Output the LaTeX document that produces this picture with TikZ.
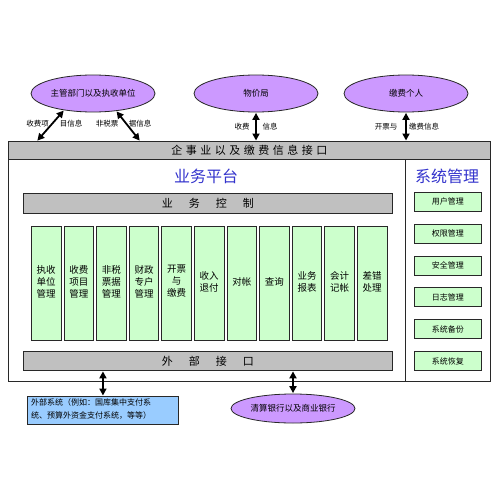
\documentclass[tikz,border=0pt]{standalone}
\usepackage{fontspec}
\setmainfont{Noto Sans CJK SC}
\usetikzlibrary{shapes.geometric,arrows.meta,calc}
\definecolor{purp}{RGB}{204,153,255}
\definecolor{lgreen}{RGB}{204,255,204}
\definecolor{bargrey}{RGB}{192,192,192}
\definecolor{lblue}{RGB}{153,204,255}
\definecolor{ttlblue}{RGB}{51,51,204}
\definecolor{edge}{RGB}{40,40,40}
\tikzset{
  oval/.style={ellipse,draw=edge,line width=0.8pt,fill=purp,minimum width=124pt,minimum height=37pt,inner sep=0pt,font=\fontsize{8.5}{10}\selectfont},
  greybar/.style={rectangle,draw=edge,line width=0.9pt,fill=bargrey,inner sep=0pt},
  colbox/.style={rectangle,draw=edge,line width=0.9pt,fill=lgreen,inner sep=0pt,minimum width=29.5pt,minimum height=114pt},
  coltext/.style={align=center,font=\fontsize{9.5}{12}\selectfont,inner sep=0pt},
  sysbox/.style={rectangle,draw=edge,line width=0.9pt,fill=lgreen,inner sep=0pt,minimum width=67pt,minimum height=19pt,font=\fontsize{8}{10}\selectfont},
  lbl/.style={font=\fontsize{7.5}{9}\selectfont,inner sep=0pt},
  biarrow/.style={line width=1.8pt,{Triangle[length=7pt,width=7pt]}-{Triangle[length=7pt,width=7pt]},shorten <=0.5pt,shorten >=0.5pt},
  ttl/.style={font=\fontsize{16}{18}\selectfont,text=ttlblue,inner sep=0pt}
}
\begin{document}
\begin{tikzpicture}[x=1pt,y=-1pt]
\useasboundingbox (0,0) rectangle (500,500);
% top ellipses
\node[oval] (e1) at (93,93.5) {主管部门以及执收单位};
\node[oval] (e2) at (256,93.5) {物价局};
\node[oval] (e3) at (406,93.5) {缴费个人};
% outer frame
\node[rectangle,draw=edge,line width=1pt,minimum width=482pt,minimum height=240pt,inner sep=0pt,anchor=north west] (frame) at (8,141) {};
\node[greybar,minimum width=482pt,minimum height=18pt,anchor=north west,font=\fontsize{11}{13}\selectfont] (iface) at (8,141) {企\hspace{3.5pt}事\hspace{3.5pt}业\hspace{3.5pt}以\hspace{3.5pt}及\hspace{3.5pt}缴\hspace{3.5pt}费\hspace{3.5pt}信\hspace{3.5pt}息\hspace{3.5pt}接\hspace{3.5pt}口};
\coordinate (dtop) at (405,159);
\coordinate (dbot) at (405,381);
\draw[edge,line width=1pt] (dtop) -- (dbot);
% titles
\node[ttl] (t1) at (206,176) {业务平台};
\node[ttl] (t2) at (447,176) {系统管理};
% business control bar
\node[greybar,minimum width=369pt,minimum height=20pt,anchor=north west,font=\fontsize{11}{13}\selectfont] (ctrl) at (23,193) {业\hspace{16pt}务\hspace{16pt}控\hspace{16pt}制};
% columns
\foreach \i/\t in {0/{执收\\单位\\管理},1/{收费\\项目\\管理},2/{非税\\票据\\管理},3/{财政\\专户\\管理},4/{开票\\与\\缴费},5/{收入\\退付},6/{对帐},7/{查询},8/{业务\\报表},9/{会计\\记帐},10/{差错\\处理}}{
  \node[colbox,anchor=north west] (c\i) at ({31+32.6*\i},226) {};
  \node[coltext] (ct\i) at ($(c\i.center)+(0,-2)$) {\t};
}
% external interface bar
\node[greybar,minimum width=369pt,minimum height=19pt,anchor=north west,font=\fontsize{11}{13}\selectfont] (ext) at (23,351) {外\hspace{16pt}部\hspace{16pt}接\hspace{16pt}口};
% system management boxes
\foreach \i/\t in {0/用户管理,1/权限管理,2/安全管理,3/日志管理,4/系统备份,5/系统恢复}{
  \node[sysbox,anchor=north west] (s\i) at (414,{192+31.8*\i}) {\t};
}
% bottom nodes
\node[rectangle,draw=edge,line width=0.9pt,fill=lblue,minimum width=151pt,minimum height=28pt,inner sep=0pt,anchor=north west] (blue) at (27,396) {};
\node[align=left,anchor=west,inner sep=0pt,font=\fontsize{8}{13}\selectfont] (bluetxt) at (31,409) {外部系统（例如：国库集中支付系\\统、预算外资金支付系统，等等）};
\node[oval,minimum height=29pt] (e4) at (293,408.5) {清算银行以及商业银行};
% arrows top
\coordinate (a1) at (37,141);
\coordinate (a2) at (140,141);
\draw[biarrow] (a1) -- (e1.-150);
\draw[biarrow] (a2) -- (e1.-37);
\draw[biarrow] (iface.north -| e2.south) -- (e2.south);
\draw[biarrow] (iface.north -| e3.south) -- (e3.south);
% arrows bottom
\draw[biarrow] (ext.south -| blue.north) -- (blue.north);
\draw[biarrow] (ext.south -| e4.north) -- (e4.north);
% labels
\node[lbl] (l1) at (37.5,124) {收费项};
\node[lbl] (l2) at (71,124) {目信息};
\node[lbl] (l3) at (107,124) {非税票};
\node[lbl] (l4) at (140,124) {据信息};
\node[lbl] (l5) at (242,127) {收费};
\node[lbl] (l6) at (270,127) {信息};
\node[lbl] (l7) at (386,127) {开票与};
\node[lbl] (l8) at (424,127) {缴费信息};
\end{tikzpicture}
\end{document}
